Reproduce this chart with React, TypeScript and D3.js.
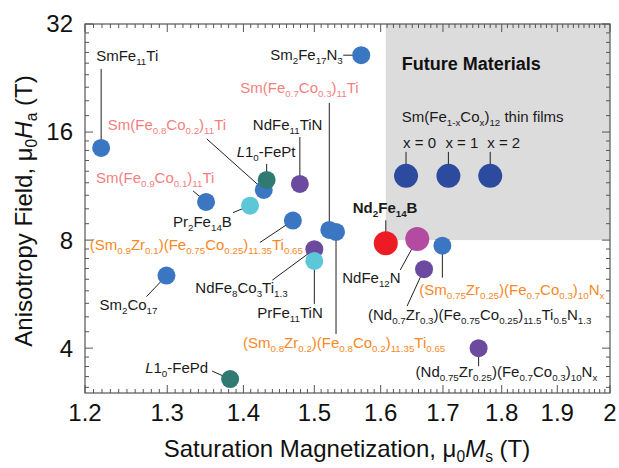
import React from "react";
import * as d3 from "d3";

// Canvas and plot frame
const W = 619;
const H = 468;
const PLOT = { left: 85, right: 610, top: 24, bottom: 393 };

// Axis domains
const MS_DOMAIN = [1.2, 2.0];
const HA_DOMAIN = [3, 32];

// Tick values and labels
const xTickValues = [1.2, 1.3, 1.4, 1.5, 1.6, 1.7, 1.8, 1.9, 2.0];
const xTickLabels = ["1.2", "1.3", "1.4", "1.5", "1.6", "1.7", "1.8", "1.9", "2"];
const yTickValues = [4, 8, 16, 32];
const yTickLabels = ["4", "8", "16", "32"];

// Materials: name markup (_{..} subscript, ~{..} italic), Ms (T), Ha (T), marker class, label tone
const materialNames = [
  "SmFe_{11}Ti",
  "Sm_{2}Fe_{17}N_{3}",
  "Sm(Fe_{0.8}Co_{0.2})_{11}Ti",
  "~{L}1_{0}-FePt",
  "NdFe_{11}TiN",
  "Sm(Fe_{0.9}Co_{0.1})_{11}Ti",
  "Pr_{2}Fe_{14}B",
  "(Sm_{0.9}Zr_{0.1})(Fe_{0.75}Co_{0.25})_{11.35}Ti_{0.65}",
  "Sm(Fe_{0.7}Co_{0.3})_{11}Ti",
  "(Sm_{0.8}Zr_{0.2})(Fe_{0.8}Co_{0.2})_{11.35}Ti_{0.65}",
  "NdFe_{8}Co_{3}Ti_{1.3}",
  "PrFe_{11}TiN",
  "Sm_{2}Co_{17}",
  "~{L}1_{0}-FePd",
  "Nd_{2}Fe_{14}B",
  "NdFe_{12}N",
  "(Sm_{0.75}Zr_{0.25})(Fe_{0.7}Co_{0.3})_{10}N_{x}",
  "(Nd_{0.7}Zr_{0.3})(Fe_{0.75}Co_{0.25})_{11.5}Ti_{0.5}N_{1.3}",
  "(Nd_{0.75}Zr_{0.25})(Fe_{0.7}Co_{0.3})_{10}N_{x}",
];
const msValues = [
  1.219, 1.57, 1.428, 1.432, 1.479, 1.35, 1.409, 1.469, 1.522, 1.532,
  1.5, 1.5, 1.299, 1.382, 1.608, 1.658, 1.699, 1.669, 1.76,
];
const haValues = [
  14.45, 26.2, 11.04, 11.77, 11.47, 10.22, 9.98, 9.07, 8.54, 8.43,
  7.55, 7.0, 6.37, 3.28, 7.84, 8.06, 7.72, 6.64, 4.0,
];
const markerClasses = [
  "blue", "blue", "blue", "teal", "purple", "blue", "cyan", "blue", "blue", "blue",
  "purple", "cyan", "blue", "teal", "red", "magenta", "blue", "purple", "purple",
];
const labelTones = [
  "black", "black", "salmon", "black", "black", "salmon", "black", "orange", "salmon", "orange",
  "black", "black", "black", "black", "bold", "black", "orange", "black", "black",
];

// Thin-film candidates inside the target region
const filmLabels = ["x = 0", "x = 1", "x = 2"];
const filmMs = [1.64, 1.709, 1.78];
const filmHa = [12.08, 12.08, 12.08];

// Target region: beyond Nd2Fe14B magnetization and above 8 T
const regionMs = 1.608;
const regionHa = 8;

// Label placement relative to each marker (pixels): text start, leader-line start
const labelLayout = [
  { tx: -5, ty: -87, lx: 0, ly: -79 },
  { tx: -91, ty: 5, lx: -18, ly: 0 },
  { tx: -156, ty: -60, lx: -57, ly: -51 },
  { tx: -30, ty: -23, lx: 0, ly: -16 },
  { tx: -47, ty: -54, lx: 0, ly: -47 },
  { tx: -110, ty: -19, lx: -13, ly: -11 },
  { tx: -77, ty: 21, lx: -17, ly: 7 },
  { tx: -203, ty: 29, lx: -33, ly: 22 },
  { tx: -89, ty: -137, lx: 0, ly: -127 },
  { tx: -93, ty: 116, lx: 0, ly: 102 },
  { tx: -119, ty: 44, lx: -42, ly: 31 },
  { tx: -57, ty: 57, lx: 0, ly: 43 },
  { tx: -67, ty: 34, lx: -20, ly: 21 },
  { tx: -85, ty: -6, lx: -18, ly: -8 },
  { tx: -33, ty: -30, lx: 0, ly: -23 },
  { tx: -75, ty: 44, lx: -17, ly: 31 },
  { tx: -23, ty: 49, lx: 0, ly: 32 },
  { tx: -56, ty: 51, lx: -17, ly: 37 },
  { tx: -63, ty: 29, lx: 0, ly: 18 },
];

const markerFill: Record<string, string> = {
  blue: "#3b76c2",
  teal: "#2f7b72",
  purple: "#6c4a9f",
  cyan: "#5cc7d7",
  red: "#ed1c24",
  magenta: "#b34ba1",
  film: "#2d4b9e",
};
const markerRadius: Record<string, number> = {
  blue: 9, teal: 9, purple: 9, cyan: 9, red: 12, magenta: 12, film: 12,
};
const toneFill: Record<string, string> = {
  black: "#1a1a1a",
  bold: "#1a1a1a",
  salmon: "#f47f7f",
  orange: "#f7891f",
};

const FONT = "'Liberation Sans', Arial, Helvetica, sans-serif";

type Seg = { text: string; sub: boolean; italic: boolean };

function parseMarkup(s: string): Seg[] {
  const segs: Seg[] = [];
  const re = /_\{([^}]*)\}|~\{([^}]*)\}|([^_~]+)/g;
  let m: RegExpExecArray | null;
  while ((m = re.exec(s))) {
    if (m[1] !== undefined) segs.push({ text: m[1], sub: true, italic: false });
    else if (m[2] !== undefined) segs.push({ text: m[2], sub: false, italic: true });
    else segs.push({ text: m[3], sub: false, italic: false });
  }
  return segs;
}

function RichText(props: {
  x: number; y: number; markup: string; size: number; fill: string;
  weight?: string; anchor?: string; transform?: string; subRatio?: number; dropRatio?: number;
}) {
  const { x, y, markup, size, fill, weight, anchor, transform } = props;
  const segs = parseMarkup(markup);
  const subSize = size * (props.subRatio ?? 0.65);
  const drop = size * (props.dropRatio ?? 0.27);
  let cur = 0;
  return (
    <text x={x} y={y} fontSize={size} fill={fill} fontWeight={weight || "normal"}
      textAnchor={anchor || "start"} fontFamily={FONT} transform={transform}
      style={{ whiteSpace: "pre" }}>
      {segs.map((s, i) => {
        const target = s.sub ? drop : 0;
        const dy = target - cur;
        cur = target;
        return (
          <tspan key={i} dy={dy} fontSize={s.sub ? subSize : undefined}
            fontStyle={s.italic ? "italic" : undefined}>{s.text}</tspan>
        );
      })}
    </text>
  );
}

export default function App() {
  const x = d3.scaleLog().domain(MS_DOMAIN).range([PLOT.left, PLOT.right]);
  const y = d3.scaleLog().base(2).domain(HA_DOMAIN).range([PLOT.bottom, PLOT.top]);

  const xMinor = d3.range(120, 201).map((v) => v / 100);
  const yMinor: number[] = [];
  [2, 4, 8, 16].forEach((base) => {
    for (let i = 1; i <= 8; i++) {
      const v = base * (1 + i / 9);
      if (v >= HA_DOMAIN[0] && v <= HA_DOMAIN[1]) yMinor.push(v);
    }
  });

  const axisColor = "#555";
  const minorLen = 4;
  const majorLen = 8;

  const points = msValues.map((ms, i) => ({
    ms, ha: haValues[i], name: materialNames[i], kind: markerClasses[i],
    tone: labelTones[i], layout: labelLayout[i],
  }));

  const rx0 = x(regionMs);
  const ry1 = y(regionHa);

  return (
    <svg width={W} height={H} style={{ position: "absolute", left: 0, top: 0, background: "#fff" }}
      fontFamily={FONT}>
      {/* target region */}
      <rect x={rx0} y={PLOT.top} width={PLOT.right - rx0} height={ry1 - PLOT.top} fill="#dcdcdc" />
      <text x={rx0 + 16} y={70} fontSize={18} fontWeight="bold" fill="#111">Future Materials</text>
      <RichText x={rx0 + 16} y={122} markup="Sm(Fe_{1-x}Co_{x})_{12} thin films" size={15} fill="#1a1a1a" />

      {/* frame and ticks */}
      <rect x={PLOT.left} y={PLOT.top} width={PLOT.right - PLOT.left} height={PLOT.bottom - PLOT.top}
        fill="none" stroke={axisColor} strokeWidth={1.2} />
      {xMinor.map((v, i) => {
        const major = Math.round(v * 100) % 10 === 0;
        const len = major ? majorLen : minorLen;
        const px = x(v);
        return (
          <g key={"xt" + i} stroke={axisColor} strokeWidth={1}>
            <line x1={px} x2={px} y1={PLOT.bottom} y2={PLOT.bottom - len} />
            <line x1={px} x2={px} y1={PLOT.top} y2={PLOT.top + len} />
          </g>
        );
      })}
      {yMinor.map((v, i) => {
        const py = y(v);
        return (
          <g key={"ym" + i} stroke={axisColor} strokeWidth={1}>
            <line x1={PLOT.left} x2={PLOT.left + minorLen} y1={py} y2={py} />
            <line x1={PLOT.right} x2={PLOT.right - minorLen} y1={py} y2={py} />
          </g>
        );
      })}
      {yTickValues.map((v, i) => {
        const py = y(v);
        return (
          <g key={"yM" + i}>
            <line x1={PLOT.left} x2={PLOT.left + majorLen} y1={py} y2={py} stroke={axisColor} />
            <line x1={PLOT.right} x2={PLOT.right - majorLen} y1={py} y2={py} stroke={axisColor} />
            <text x={73} y={py} dy="0.35em" textAnchor="end" fontSize={24} fill="#111">{yTickLabels[i]}</text>
          </g>
        );
      })}
      {xTickValues.map((v, i) => (
        <text key={"xl" + i} x={x(v)} y={421} textAnchor="middle" fontSize={24} fill="#111">
          {xTickLabels[i]}
        </text>
      ))}

      {/* axis titles */}
      <RichText x={347} y={457} anchor="middle" size={24} fill="#111" dropRatio={0.2}
        markup="Saturation Magnetization, μ_{0}~{M}_{s} (T)" />
      <RichText x={0} y={0} anchor="middle" size={24} fill="#111" dropRatio={0.2}
        transform={`translate(32, ${211}) rotate(-90)`}
        markup="Anisotropy Field, μ_{0}~{H}_{a} (T)" />

      {/* leader lines */}
      {points.map((p, i) => {
        const px = x(p.ms);
        const py = y(p.ha);
        return (
          <line key={"ll" + i} x1={px + p.layout.lx} y1={py + p.layout.ly} x2={px} y2={py}
            stroke="#222" strokeWidth={1} />
        );
      })}
      {filmMs.map((ms, i) => (
        <line key={"fl" + i} x1={x(ms)} x2={x(ms)} y1={y(filmHa[i]) - 24} y2={y(filmHa[i])}
          stroke="#222" strokeWidth={1} />
      ))}

      {/* markers */}
      {points.map((p, i) => (
        <circle key={"pt" + i} cx={x(p.ms)} cy={y(p.ha)} r={markerRadius[p.kind]} fill={markerFill[p.kind]} />
      ))}
      {filmMs.map((ms, i) => (
        <circle key={"fp" + i} cx={x(ms)} cy={y(filmHa[i])} r={markerRadius.film} fill={markerFill.film} />
      ))}

      {/* labels */}
      {points.map((p, i) => (
        <RichText key={"lb" + i} x={x(p.ms) + p.layout.tx} y={y(p.ha) + p.layout.ty}
          markup={p.name} size={15} fill={toneFill[p.tone]}
          weight={p.tone === "bold" ? "bold" : "normal"} />
      ))}
      {filmMs.map((ms, i) => (
        <text key={"ft" + i} x={x(ms) - 3} y={y(filmHa[i]) - 28} fontSize={15} fill="#1a1a1a">
          {filmLabels[i]}
        </text>
      ))}
    </svg>
  );
}
